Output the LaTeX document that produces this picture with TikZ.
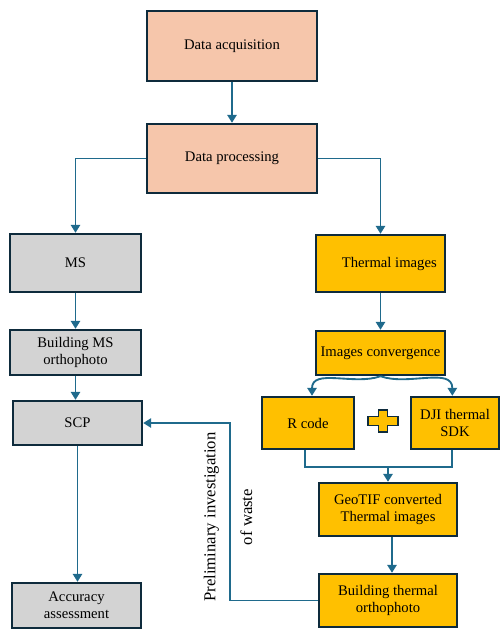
\documentclass[tikz,border=0pt]{standalone}
\usepackage{fontspec}
\setmainfont{Liberation Serif}
\usetikzlibrary{arrows.meta}
\definecolor{peach}{HTML}{F6C6AB}
\definecolor{lgray}{HTML}{D3D3D3}
\definecolor{gold}{HTML}{FFC000}
\definecolor{navy}{HTML}{0E2B3C}
\definecolor{flow}{HTML}{1F6A8C}

\begin{document}
\begin{tikzpicture}[x=0.75pt,y=-0.75pt,
    box/.style={draw=navy, line width=1.8pt, align=center, inner sep=1pt,
      font=\fontsize{11}{12.5}\selectfont},
    link/.style={draw=flow, line width=1.4pt, -{Triangle[length=6pt,width=7pt]}},
    bare/.style={draw=flow, line width=1.4pt}]
    \useasboundingbox (0,0) rectangle (500,629);
    \node[box, fill=peach, minimum width=127.5pt, minimum height=52.5pt] (acq) at (232,46) {Data acquisition};
    \node[box, fill=peach, minimum width=127.5pt, minimum height=51.75pt] (proc) at (232,158.5) {Data processing};
    \node[box, fill=lgray, minimum width=98.25pt, minimum height=43.5pt] (ms) at (75.5,263) {MS};
    \node[box, fill=lgray, minimum width=98.25pt, minimum height=33.75pt] (bms) at (75.5,352.5) {Building MS\\orthophoto};
    \node[box, fill=lgray, minimum width=96.75pt, minimum height=33pt] (scp) at (77.5,423) {SCP};
    \node[box, fill=lgray, minimum width=96.75pt, minimum height=33.75pt] (acc) at (76.5,605.5) {Accuracy\\assessment};
    \node[box, fill=gold, minimum width=96.75pt, minimum height=42.75pt] (thi) at (380.5,263.5) {\hspace{1.2em}Thermal images};
    \node[box, fill=gold, minimum width=96.75pt, minimum height=33pt] (ic) at (380.5,353) {Images convergence};
    \node[box, fill=gold, minimum width=69pt, minimum height=39pt] (rc) at (308,423) {R code};
    \node[box, fill=gold, minimum width=66pt, minimum height=39pt] (dji) at (455,423) {DJI thermal\\SDK};
    \node[box, fill=gold, minimum width=103.5pt, minimum height=39.75pt] (geo) at (388,509.5) {GeoTIF converted\\Thermal images};
    \node[box, fill=gold, minimum width=103.5pt, minimum height=39.75pt] (bto) at (388,600.5) {Building thermal\\orthophoto};
    \filldraw[fill=gold, draw=navy, line width=1.4pt]
      (378.5,410) -- (387.5,410) -- (387.5,416.5) -- (398,416.5) -- (398,425.5) -- (387.5,425.5)
      -- (387.5,432) -- (378.5,432) -- (378.5,425.5) -- (368,425.5) -- (368,416.5) -- (378.5,416.5) -- cycle;
    \coordinate (j) at (388,467);
    \coordinate (fb) at (230,423);
    \draw[link] (acq) -- (proc);
    \draw[link] (proc.west) -| (ms.north);
    \draw[link] (proc.east) -| (thi.north);
    \draw[link] (ms) -- (bms);
    \draw[link] (bms.south) -- (bms.south |- scp.north);
    \draw[link] (scp.south) -- (scp.south |- acc.north);
    \draw[link] (thi.south) -- (thi.south |- ic.north);
    \draw[link] (ic.south) to[out=200, in=90] ([xshift=3pt]rc.north);
    \draw[link] (ic.south) to[out=-20, in=90] ([xshift=-2pt]dji.north);
    \draw[bare] ([xshift=-2pt]rc.south) |- (j) -| ([xshift=-2pt]dji.south);
    \draw[link] (j) -- (geo.north);
    \draw[link] ([xshift=3pt]geo.south) -- ([xshift=3pt]bto.north);
    \draw[link] (bto.west) -| (fb) -- (scp.east);
    \node[rotate=90, align=center, font=\fontsize{12.5}{13.5}\selectfont] (lbl) at (228,517)
      {Preliminary investigation\\[14pt]of waste};
\end{tikzpicture}
\end{document}
